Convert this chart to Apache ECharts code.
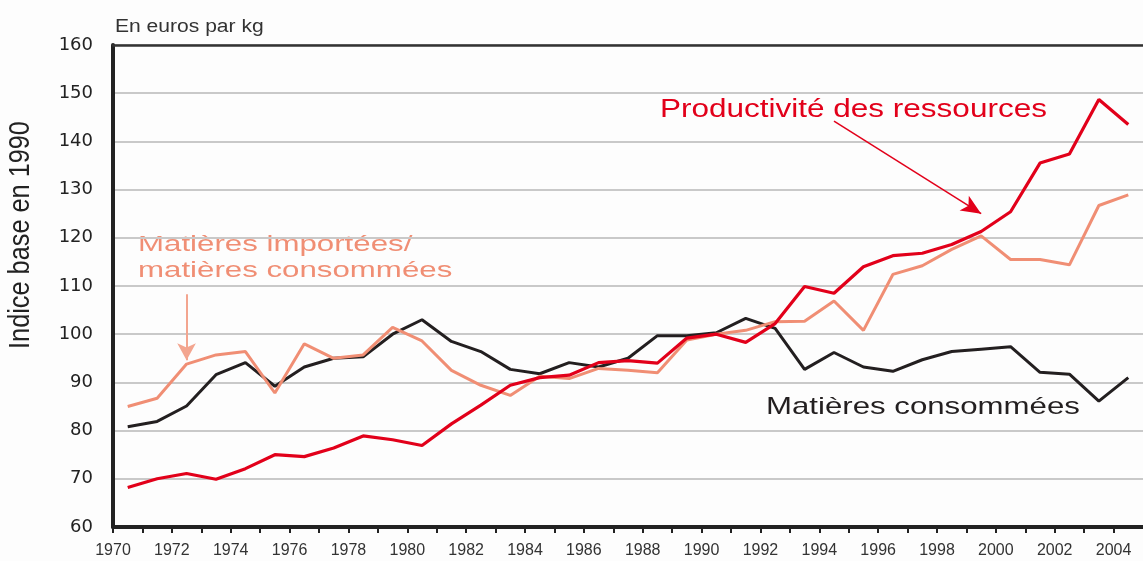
<!DOCTYPE html>
<html>
<head>
<meta charset="utf-8">
<title>Productivité des ressources</title>
<script src="https://cdn.jsdelivr.net/npm/echarts@6/dist/echarts.min.js"></script>
<style>
html, body { margin: 0; padding: 0; background: #fdfdfd; }
#chart { width: 1143px; height: 561px; }
</style>
</head>
<body>
<div id="chart"></div>
<script>
// Indice base 100 en 1990
var annees = ['1970', '1971', '1972', '1973', '1974', '1975', '1976', '1977', '1978', '1979',
	'1980', '1981', '1982', '1983', '1984', '1985', '1986', '1987', '1988', '1989',
	'1990', '1991', '1992', '1993', '1994', '1995', '1996', '1997', '1998', '1999',
	'2000', '2001', '2002', '2003', '2004'];
var productivite = [68.2, 70.0, 71.1, 69.9, 72.1, 75.0, 74.6, 76.4, 78.9, 78.1,
	76.9, 81.4, 85.3, 89.4, 91.0, 91.5, 94.1, 94.5, 94.0, 99.2,
	100.0, 98.3, 102.2, 109.9, 108.5, 114.0, 116.3, 116.8, 118.6, 121.3,
	125.4, 135.5, 137.4, 148.7, 143.5];
var importees = [85.0, 86.7, 93.8, 95.7, 96.4, 87.8, 98.0, 95.0, 95.7, 101.4,
	98.6, 92.5, 89.4, 87.3, 91.3, 90.8, 92.9, 92.5, 92.0, 98.8,
	100.0, 100.8, 102.6, 102.7, 106.9, 100.8, 112.4, 114.2, 117.6, 120.4,
	115.5, 115.5, 114.4, 126.7, 128.9];
var consommees = [80.8, 81.9, 85.1, 91.6, 94.1, 89.2, 93.2, 95.0, 95.3, 100.0,
	103.0, 98.5, 96.4, 92.7, 91.8, 94.1, 93.2, 95.0, 99.7, 99.7,
	100.3, 103.3, 101.2, 92.7, 96.2, 93.2, 92.3, 94.7, 96.4, 96.9,
	97.4, 92.1, 91.7, 86.1, 91.0];
var yTicks = [60, 160, 10];
var anneeDebut = 1970, anneeFin = 2005;

var rouge = '#e2001a', saumon = '#f08e74', noir = '#231f20';
var police = 'Liberation Sans';

var myChart = echarts.init(document.getElementById('chart'));

function texte(txt, x, y, couleur, taille, sx) {
	return {
		type : 'text',
		x : x,
		y : y,
		scaleX : sx,
		silent : true,
		style : {
			text : txt,
			fill : couleur,
			fontFamily : police,
			fontSize : taille,
			lineHeight : 26,
			textAlign : 'left',
			textVerticalAlign : 'middle'
		}
	};
}

var option = {
	backgroundColor : '#fdfdfd',
	animation : false,
	grid : {
		left : 113,
		right : -8,
		top : 45,
		bottom : 34
	},
	xAxis : [ {
		// axe des années (graduations aux limites d'année)
		type : 'value',
		min : anneeDebut,
		max : anneeFin,
		interval : 1,
		position : 'bottom',
		axisLine : { show : true, onZero : false, lineStyle : { color : '#222', width : 4 } },
		axisTick : { show : true, length : 6, lineStyle : { color : '#222', width : 2 } },
		axisLabel : {
			margin : 16,
			color : '#333',
			fontFamily : police,
			fontSize : 16,
			showMaxLabel : false,
			formatter : function(v) { return v % 2 === 0 ? String(v) : ''; }
		},
		splitLine : { show : false }
	}, {
		type : 'category',
		data : annees,
		boundaryGap : true,
		position : 'top',
		axisLine : { show : true, onZero : false, lineStyle : { color : '#333', width : 2.5 } },
		axisTick : { show : false },
		axisLabel : { show : false },
		splitLine : { show : false }
	} ],
	yAxis : {
		type : 'value',
		min : yTicks[0],
		max : yTicks[1],
		interval : yTicks[2],
		axisLine : { show : true, lineStyle : { color : '#222', width : 4 } },
		axisTick : { show : false },
		axisLabel : {
			margin : 20,
			color : '#222',
			fontFamily : 'DejaVu Sans',
			fontSize : 18
		},
		splitLine : { show : true, lineStyle : { color : '#c9c9c9', width : 2 } }
	},
	series : [ {
		name : 'Matières consommées',
		type : 'line',
		xAxisIndex : 1,
		data : consommees,
		symbol : 'none',
		lineStyle : { color : noir, width : 3 },
		z : 3
	}, {
		name : 'Matières importées/matières consommées',
		type : 'line',
		xAxisIndex : 1,
		data : importees,
		symbol : 'none',
		lineStyle : { color : saumon, width : 3 },
		z : 4,
		markLine : {
			silent : true,
			symbol : [ 'none', 'arrow' ],
			symbolSize : [ 14, 17 ],
			label : { show : false },
			lineStyle : { color : '#f3a58f', width : 2, type : 'solid' },
			data : [ [ { coord : [ '1972', 108.3 ] }, { coord : [ '1972', 94.6 ] } ] ]
		}
	}, {
		name : 'Productivité des ressources',
		type : 'line',
		xAxisIndex : 1,
		data : productivite,
		symbol : 'none',
		lineStyle : { color : rouge, width : 3.2 },
		z : 5,
		markLine : {
			silent : true,
			symbol : [ 'none', 'arrow' ],
			symbolSize : [ 13, 20 ],
			label : { show : false },
			lineStyle : { color : rouge, width : 1.5, type : 'solid' },
			data : [ [ { coord : [ '1994', 144.2 ] }, { coord : [ '1999', 125.0 ] } ] ]
		}
	} ],
	graphic : [
		texte('En euros par kg', 115, 27, '#333', 18, 1.17),
		{
			type : 'text',
			x : 21,
			y : 235,
			rotation : Math.PI / 2,
			scaleX : 1.15,
			scaleY : 1.3,
			silent : true,
			style : {
				text : 'Indice base en 1990',
				fill : '#222',
				fontFamily : police,
				fontSize : 22,
				textAlign : 'center',
				textVerticalAlign : 'middle'
			}
		},
		texte('Productivité des ressources', 660, 110, rouge, 25, 1.26),
		texte('Matières importées/\nmatières consommées', 138, 258, saumon, 22, 1.42),
		texte('Matières consommées', 766, 407, noir, 24, 1.3)
	]
};
myChart.setOption(option);

window.onresize = function() {
	myChart.resize();
};
</script>
</body>
</html>
